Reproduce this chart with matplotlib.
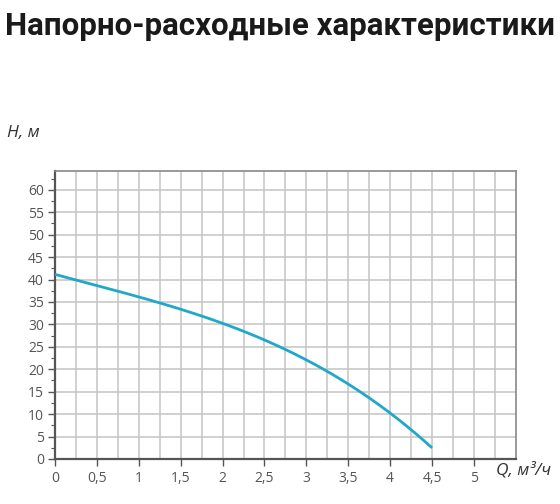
import matplotlib.pyplot as plt
import numpy as np
from matplotlib import font_manager
from matplotlib.ticker import MultipleLocator, FuncFormatter

# Head-flow curve
flow = [0, 0.5, 1, 1.5, 2, 2.5, 3, 3.5, 4, 4.5]
head = [41, 38.8, 36.3, 33.5, 30, 26.3, 22, 17, 10.4, 2.3]

title_text = 'Напорно-расходные характеристики'
y_label = 'H, м'
x_label = 'Q, м³/ч'

names = {f.name for f in font_manager.fontManager.ttflist}
title_font = 'Liberation Sans Narrow' if 'Liberation Sans Narrow' in names else 'Roboto'
plt.rcParams['font.family'] = ['Open Sans', 'DejaVu Sans']

fig = plt.figure(figsize=(5.6, 5.04), dpi=100)
ax = fig.add_axes([0.0982, 0.0893, 0.823, 0.5714])

# Smooth the curve through the read points
xs = np.linspace(0, 4.5, 200)
coef = np.polyfit(flow, head, 3)
ax.plot(xs, np.polyval(coef, xs), color='#1fa8c8', lw=2.0, solid_capstyle='butt', zorder=3)

ax.set_xlim(0, 5.5)
ax.set_ylim(0, 64.2)

ax.set_xticks(np.arange(0, 5.01, 0.5))
ax.set_xticks(np.arange(0.25, 5.3, 0.25), minor=True)
ax.set_yticks(np.arange(0, 61, 5))
ax.yaxis.set_minor_locator(MultipleLocator(2.5))
ax.grid(True, which='both', axis='x', color='#c4c4c4', lw=1.1)
ax.grid(True, which='major', axis='y', color='#c4c4c4', lw=1.1)
ax.set_axisbelow(True)

fmt = FuncFormatter(lambda v, p: ('%g' % v).replace('.', ','))
ax.xaxis.set_major_formatter(fmt)
ax.yaxis.set_major_formatter(fmt)

ax.tick_params(axis='both', which='major', labelsize=10, labelcolor='#555555', color='#555555',
               length=5, width=1.0)
ax.tick_params(axis='x', which='minor', length=0)
ax.tick_params(axis='y', which='minor', length=3, width=0.8, color='#555555')
ax.tick_params(axis='x', pad=4)
ax.tick_params(axis='y', pad=3)

for side in ['left', 'bottom']:
    ax.spines[side].set_color('#555555')
    ax.spines[side].set_linewidth(1.6)
for side in ['top', 'right']:
    ax.spines[side].set_color('#888888')
    ax.spines[side].set_linewidth(1.2)

fig.text(0.5, 0.948, title_text, ha='center', va='center', fontsize=22.5,
         fontweight='bold', family=title_font, color='#1a1a1a')
fig.text(0.013, 0.737, y_label, ha='left', va='center', fontsize=12.5,
         style='italic', color='#333333')
fig.text(0.885, 0.067, x_label, ha='left', va='center', fontsize=12.5,
         style='italic', color='#333333')

plt.savefig('out.png', dpi=100)
